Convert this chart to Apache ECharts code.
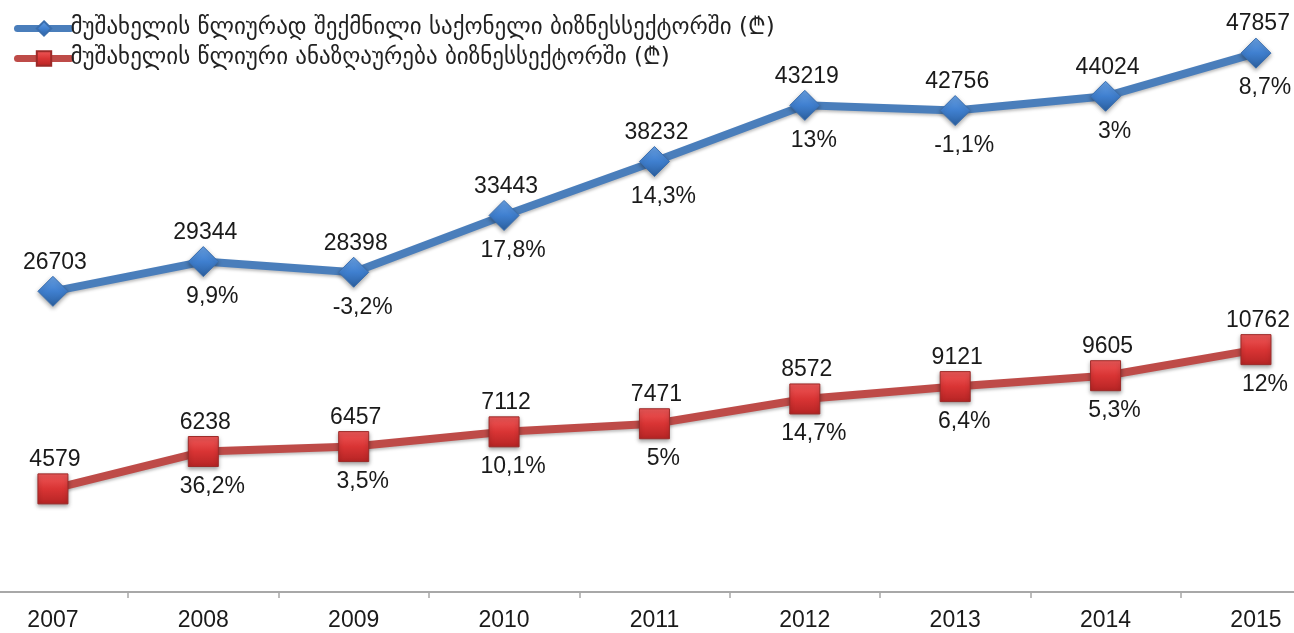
<!DOCTYPE html>
<html>
<head>
<meta charset="utf-8">
<script src="https://cdn.jsdelivr.net/npm/echarts@6/dist/echarts.min.js"></script>
<style>html,body{margin:0;padding:0;background:#fff}#c{width:1294px;height:633px}</style>
</head>
<body>
<div id="c"></div>
<script>
const years = ['2007','2008','2009','2010','2011','2012','2013','2014','2015'];
const goodsName = 'მუშახელის წლიურად შექმნილი საქონელი ბიზნესსექტორში (₾)';
const wageName = 'მუშახელის წლიური ანაზღაურება ბიზნესსექტორში (₾)';
const goodsValues = [26703, 29344, 28398, 33443, 38232, 43219, 42756, 44024, 47857];
const goodsGrowth = ['', '9,9%', '-3,2%', '17,8%', '14,3%', '13%', '-1,1%', '3%', '8,7%'];
const wageValues = [4579, 6238, 6457, 7112, 7471, 8572, 9121, 9605, 10762];
const wageGrowth = ['', '36,2%', '3,5%', '10,1%', '5%', '14,7%', '6,4%', '5,3%', '12%'];

const chart = echarts.init(document.getElementById('c'), null, {renderer: 'canvas'});
const txt = '#1a1a1a';
const font = '"Liberation Sans", Arial, sans-serif';

const catIdx = years.map((_, i) => i);
const betweenIdx = years.slice(1).map((_, i) => i + 0.5);

function mkLabel(growth) {
  return {
    show: true,
    position: 'inside',
    formatter: p => '{v|' + p.value[1] + '}\n{p|' + (growth[p.dataIndex] || ' ') + '}',
    rich: {
      v: {fontSize: 23, fontFamily: font, color: txt, lineHeight: 70, padding: [0, 0, 0, 4]},
      p: {fontSize: 23, fontFamily: font, color: txt, lineHeight: 58, padding: [0, 0, 0, 18]}
    }
  };
}

chart.setOption({
  animation: false,
  backgroundColor: '#fff',
  legend: {
    left: 9, top: 12, orient: 'vertical', itemGap: 7,
    itemWidth: 53, itemHeight: 18,
    lineStyle: {width: 7, cap: 'round'},
    textStyle: {fontFamily: '"DejaVu Sans", "Noto Sans", sans-serif', fontSize: 23, color: '#222', padding: [0,0,0,-5]},
    data: [goodsName, wageName]
  },
  grid: {left: 0, right: 0, top: 29, bottom: 41, containLabel: false},
  xAxis: {
    type: 'value', min: -0.352, max: 8.253,
    splitLine: {show: false},
    axisLine: {show: true, onZero: false, lineStyle: {color: '#a8a8a8', width: 2}},
    axisTick: {show: true, length: 6, customValues: betweenIdx, lineStyle: {color: '#a8a8a8', width: 1.5}},
    axisLabel: {customValues: catIdx, formatter: v => years[Math.round(v)], fontSize: 23, fontFamily: font, color: txt, margin: 17, showMinLabel: true, showMaxLabel: true}
  },
  yAxis: [
    {type: 'value', min: 0, max: 50000, show: false, splitLine: {show: false}},
    {type: 'value', min: 0, max: 25000, show: false, splitLine: {show: false}}
  ],
  series: [
    {
      name: goodsName, type: 'line', yAxisIndex: 0, data: goodsValues.map((v, i) => [i, v]),
      symbol: 'diamond', symbolSize: 30,
      lineStyle: {color: '#4A7EBB', width: 8, shadowColor: 'rgba(0,0,0,0.25)', shadowBlur: 3, shadowOffsetY: 2},
      itemStyle: {
        color: new echarts.graphic.LinearGradient(0, 0, 0, 1, [
          {offset: 0, color: '#6aa3e6'}, {offset: 0.5, color: '#3f7fcf'}, {offset: 1, color: '#2b5f9e'}
        ]),
        borderColor: '#3a6eae', borderWidth: 1,
        shadowColor: 'rgba(0,0,0,0.35)', shadowBlur: 4, shadowOffsetY: 2
      },
      label: mkLabel(goodsGrowth),
      z: 3
    },
    {
      name: wageName, type: 'line', yAxisIndex: 1, data: wageValues.map((v, i) => [i, v]),
      symbol: 'rect', symbolSize: 30,
      lineStyle: {color: '#BE4B48', width: 8, shadowColor: 'rgba(0,0,0,0.25)', shadowBlur: 3, shadowOffsetY: 2},
      itemStyle: {
        color: new echarts.graphic.LinearGradient(0, 0, 0, 1, [
          {offset: 0, color: '#f05a5a'}, {offset: 0.5, color: '#d93434'}, {offset: 1, color: '#b52424'}
        ]),
        borderColor: '#9c2a28', borderWidth: 1,
        shadowColor: 'rgba(0,0,0,0.35)', shadowBlur: 4, shadowOffsetY: 2
      },
      label: mkLabel(wageGrowth),
      z: 3
    }
  ]
});
</script>
</body>
</html>
